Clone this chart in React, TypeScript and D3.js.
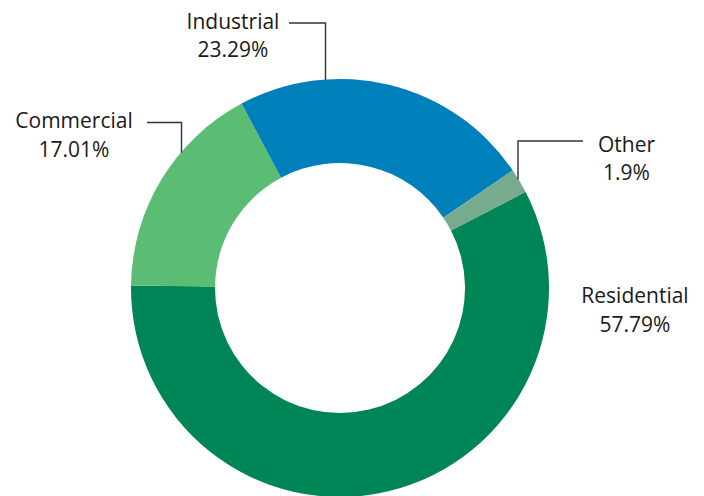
import React from "react";
import * as d3 from "d3";

const categories = ["Residential", "Commercial", "Industrial", "Other"];
const values = [57.79, 17.01, 23.29, 1.9];
const valueLabels = ["57.79%", "17.01%", "23.29%", "1.9%"];
const colors = ["#008556", "#5BBD74", "#0080BA", "#78AB8E"];

const W = 704;
const H = 496;
const cx = 340;
const cy = 288;
const outerR = 209;
const innerR = 125;

// label layout: [textX, line1Baseline, leader: null or {hx0, hx1, hy, vx}]
const labelLayout: Record<string, { x: number; y: number; leader: null | { x0: number; x1: number; y: number } }> = {
  Residential: { x: 635, y: 303, leader: null },
  Commercial: { x: 74, y: 128, leader: { x0: 147, x1: 181.5, y: 122.5 } },
  Industrial: { x: 233, y: 28.5, leader: { x0: 289, x1: 325.5, y: 23 } },
  Other: { x: 626.5, y: 151.5, leader: { x0: 583, x1: 518, y: 141 } },
};

export default function App() {
  const pie = d3
    .pie<number>()
    .sort(null)
    .value((d) => d)
    .startAngle((62.6 * Math.PI) / 180)
    .endAngle((62.6 * Math.PI) / 180 + 2 * Math.PI);
  const arcs = pie(values);
  const arc = d3.arc<d3.PieArcDatum<number>>().innerRadius(innerR).outerRadius(outerR);

  return (
    <svg width={W} height={H} style={{ position: "absolute", left: 0, top: 0 }}>
      <rect width={W} height={H} fill="#fff" />
      <g transform={`translate(${cx},${cy})`}>
        {arcs.map((a, i) => (
          <path key={categories[i]} d={arc(a) || ""} fill={colors[i]} />
        ))}
      </g>
      {categories.map((c, i) => {
        const l = labelLayout[c];
        let leader = null;
        if (l.leader) {
          const dx = l.leader.x1 - cx;
          const yArc = cy - Math.sqrt(outerR * outerR - dx * dx);
          leader = (
            <polyline
              points={`${l.leader.x0},${l.leader.y} ${l.leader.x1},${l.leader.y} ${l.leader.x1},${yArc + 1}`}
              fill="none"
              stroke="#333"
              strokeWidth={1.4}
            />
          );
        }
        return (
          <g key={c}>
            {leader}
            <text
              x={l.x}
              y={l.y}
              textAnchor="middle"
              fontFamily="'Open Sans', sans-serif"
              fontSize={21}
              fill="#1a1a1a"
            >
              {c}
            </text>
            <text
              x={l.x}
              y={l.y + 28.5}
              textAnchor="middle"
              fontFamily="'Open Sans', sans-serif"
              fontSize={21}
              fill="#1a1a1a"
            >
              {valueLabels[i]}
            </text>
          </g>
        );
      })}
    </svg>
  );
}
